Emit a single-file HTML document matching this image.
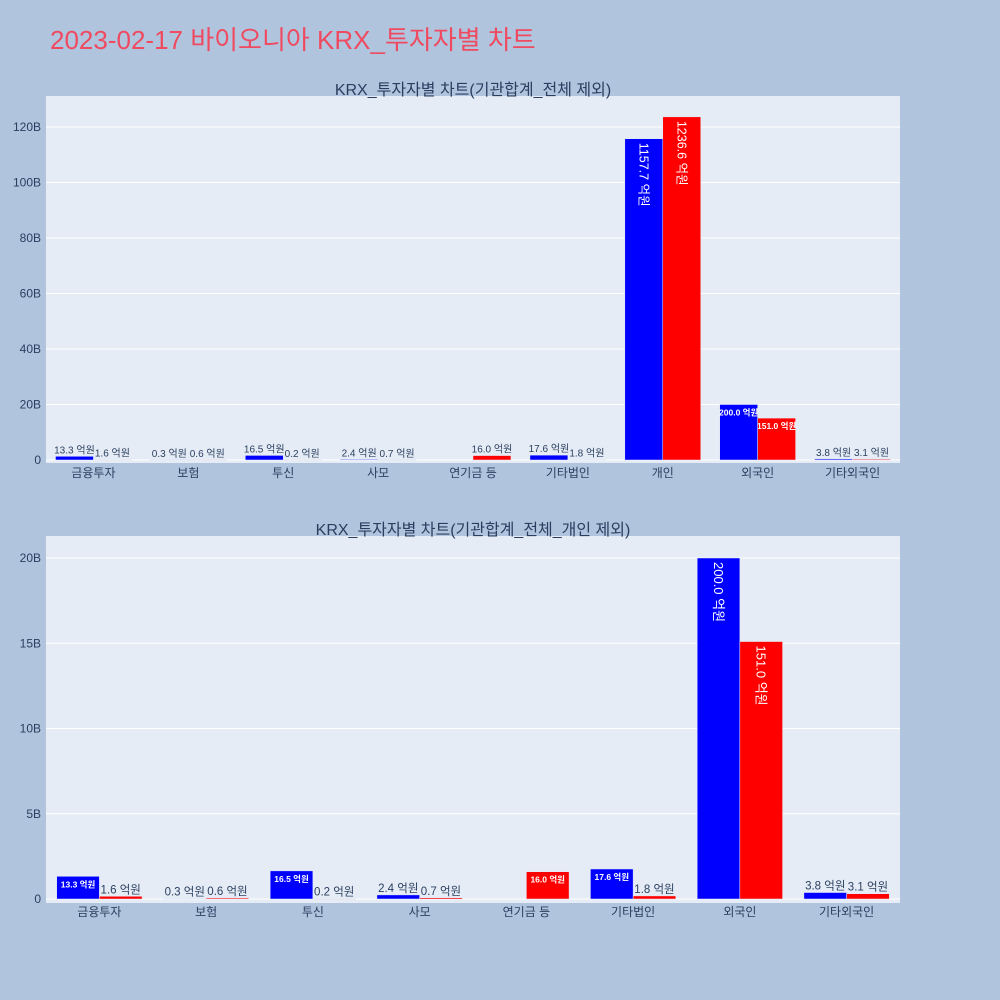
<!DOCTYPE html>
<html><head><meta charset="utf-8"><style>
body{margin:0;background:#b0c4de;}
svg{display:block;font-family:"Liberation Sans","Noto Sans CJK KR",sans-serif;}
</style></head><body>
<svg id="c" width="1000" height="1000" xmlns="http://www.w3.org/2000/svg">
<rect width="1000" height="1000" fill="#b0c4de"/>
<text x="50" y="49" font-size="26" fill="#ef4a60">2023-02-17 바이오니아 KRX_투자자별 차트</text>
</svg>
<script>
const topCats=["금융투자","보험","투신","사모","연기금 등","기타법인","개인","외국인","기타외국인"];
const topBlue=[13.3,0.3,16.5,2.4,0,17.6,1157.7,200.0,3.8];
const topRed=[1.6,0.6,0.2,0.7,16.0,1.8,1236.6,151.0,3.1];
const topTicks=[0,20,40,60,80,100,120];
const botCats=["금융투자","보험","투신","사모","연기금 등","기타법인","외국인","기타외국인"];
const botBlue=[13.3,0.3,16.5,2.4,0,17.6,200.0,3.8];
const botRed=[1.6,0.6,0.2,0.7,16.0,1.8,151.0,3.1];
const botTicks=[0,5,10,15,20];
const NS="http://www.w3.org/2000/svg";
const svg=document.getElementById('c');
function mk(tag,attrs,parent){const e=document.createElementNS(NS,tag);for(const k in attrs)e.setAttribute(k,attrs[k]);(parent||svg).appendChild(e);return e;}
function panel(cfg){
  const {x0,x1,y0,y1,zeroY,maxV,maxY,cats,blue,red,ticks,title,titleY,pfx}=cfg;
  const g=mk('g',{});
  
  
  const bg=mk('rect',{x:x0,y:y0,width:x1-x0,height:y1-y0,fill:'#e5ecf6'},g);
  
  
  const yS=v=>zeroY-(v/maxV)*(zeroY-maxY); // v in B
  ticks.forEach(t=>{
    const y=yS(t);
    const l=mk('line',{x1:x0,x2:x1,y1:y,y2:y,stroke:'#fff','stroke-width':1},g);
    
    
    const tx=mk('text',{x:x0-5,y:y+4,'font-size':12,fill:'#2a3f5f','text-anchor':'end'},g);
    tx.textContent=t===0?'0':t+'B';
    
    
  });
  const cw=(x1-x0)/cats.length, bw=cw*0.4;
  const tt=mk('text',{x:(x0+x1)/2,y:titleY,'font-size':16,fill:'#2a3f5f','text-anchor':'middle'},g);
  tt.textContent=title;
  
  
  cats.forEach((c,i)=>{
    const cx=x0+cw*(i+0.5);
    const lb=mk('text',{x:cx,y:zeroY+17,'font-size':12,fill:'#2a3f5f','text-anchor':'middle'},g);
    lb.textContent=c;
    
    
    [[blue[i],'#0000ff',cx-bw,'blue'],[red[i],'#ff0000',cx,'red']].forEach(([v,col,bx,nm])=>{
      if(!v)return;
      const top=yS(v/10), h=zeroY-top;
      const r=mk('rect',{x:bx,y:top,width:bw,height:Math.max(h,0.5),fill:col,stroke:'#e5ecf6','stroke-width':0.5},g);
      
      
      const label=v.toFixed(1)+' 억원';
      const tcx=bx+bw/2;
      let t;
      if(h>80){
        const fs=Math.min(13,bw*0.33);
        t=mk('text',{x:0,y:0,'font-size':fs,fill:'#fff','transform':`translate(${tcx-fs*0.35},${top+4}) rotate(90)`},g);
      }else if(h>18){
        t=mk('text',{x:tcx,y:top+11,'font-size':8.5,'font-weight':'bold',fill:'#fff','text-anchor':'middle'},g);
      }else{
        const fs=pfx==='top'?(label.length>7?8:10):11.5;
        t=mk('text',{x:tcx,y:top-3,'font-size':fs,fill:'#2a3f5f','text-anchor':'middle'},g);
      }
      t.textContent=label;
      
      
    });
  });
}
panel({x0:46,x1:900,y0:96,y1:463,zeroY:460,maxV:120,maxY:127,cats:topCats,blue:topBlue,red:topRed,ticks:topTicks,title:"KRX_투자자별 차트(기관합계_전체 제외)",titleY:95,pfx:'top'});
panel({x0:46,x1:900,y0:536,y1:903,zeroY:899,maxV:20,maxY:558,cats:botCats,blue:botBlue,red:botRed,ticks:botTicks,title:"KRX_투자자별 차트(기관합계_전체_개인 제외)",titleY:535,pfx:'bottom'});
</script>
</body></html>
